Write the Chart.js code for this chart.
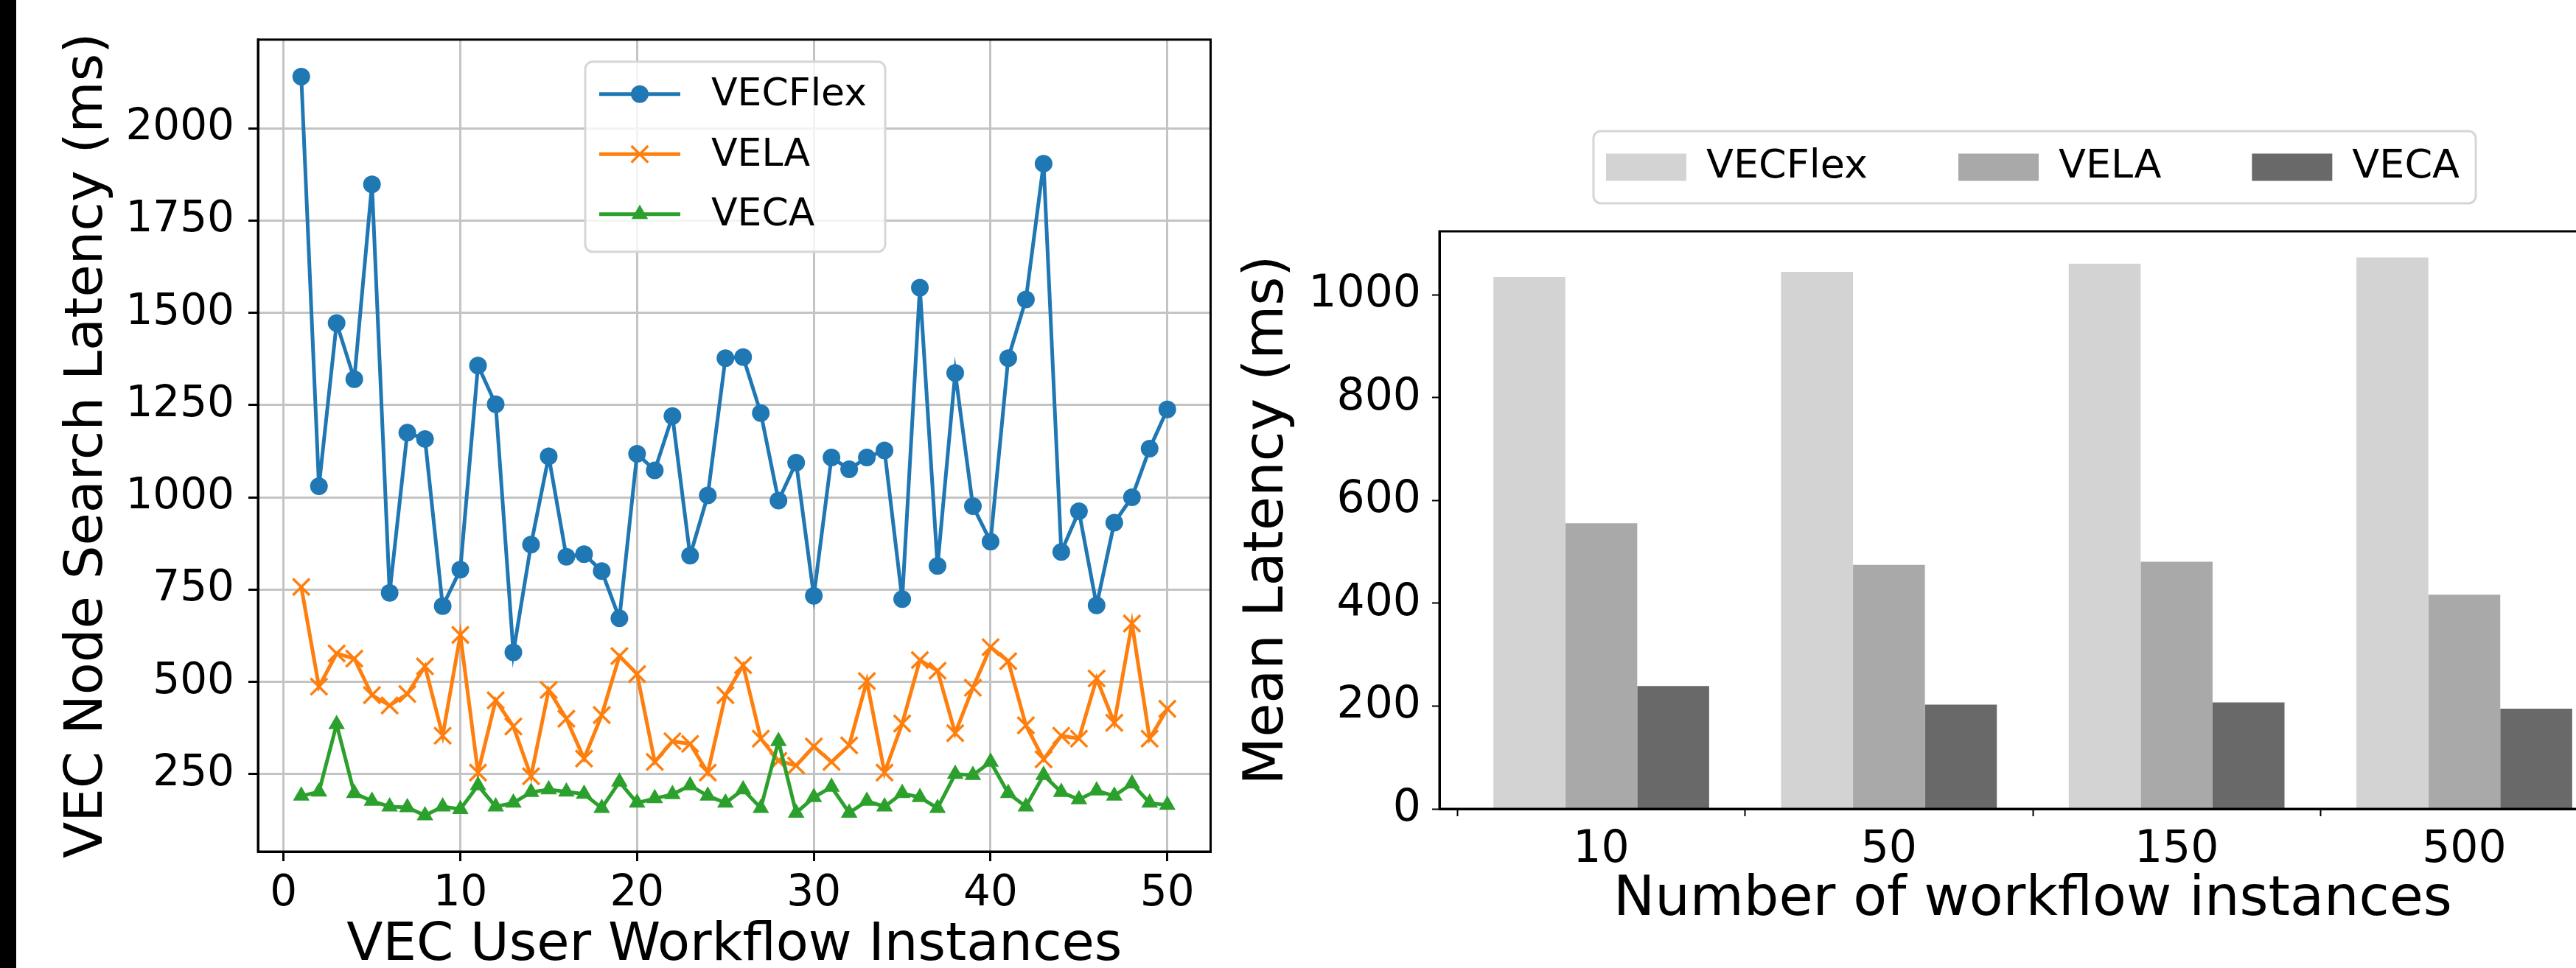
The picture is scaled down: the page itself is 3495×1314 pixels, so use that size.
<!DOCTYPE html>
<html>
<head>
<meta charset="utf-8">
<script src="https://cdn.jsdelivr.net/npm/chart.js@4/dist/chart.umd.min.js"></script>
<style>
html, body { margin: 0; padding: 0; background: #fff; overflow: hidden; width: 3495px; height: 1314px; position: relative; }
#edge { position: absolute; left: 0; top: 0; width: 22px; height: 1314px; background: #000; }
#left { position: absolute; left: 22px; top: 0; }
#right { position: absolute; left: 1640px; top: 0; }
</style>
</head>
<body>
<div id="edge"></div>
<canvas id="left" width="1640" height="1340"></canvas>
<canvas id="right" width="1923" height="1314"></canvas>
<script>
// left panel: search latency per workflow instance
const instances = [1,2,3,4,5,6,7,8,9,10,11,12,13,14,15,16,17,18,19,20,21,22,23,24,25,26,27,28,29,30,31,32,33,34,35,36,37,38,39,40,41,42,43,44,45,46,47,48,49,50];
const vecflex = [2140,1030,1472,1320,1848,741,1175,1158,705,804,1357,1252,580,872,1111,839,846,800,672,1118,1073,1220,842,1005,1377,1380,1228,991,1094,733,1108,1076,1108,1127,724,1568,814,1337,976,880,1377,1536,1904,852,962,707,931,1000,1132,1238];
const vela = [757,487,577,563,464,436,467,542,354,627,254,450,379,244,478,400,292,410,570,521,283,339,332,254,464,545,346,286,273,325,283,328,502,254,387,559,530,361,484,594,556,382,290,354,346,509,389,658,346,427];
const veca = [191,202,385,198,177,162,160,138,162,155,219,162,172,201,208,202,196,158,229,172,184,195,219,191,172,208,158,339,145,187,215,145,177,162,198,187,158,250,247,283,198,162,247,201,181,205,191,224,172,166];
const xTicks = [0,10,20,30,40,50];
const yTicksLeft = [250,500,750,1000,1250,1500,1750,2000];

// right panel: mean latency by number of instances
const groups = ['10','50','150','500'];
const vecflexMean = [1035,1045,1061,1073];
const velaMean = [556,475,481,417];
const vecaMean = [239,203,207,195];
const yTicksRight = [0,200,400,600,800,1000];

Chart.defaults.font.family = 'DejaVu Sans';
Chart.defaults.color = '#000';

const plain = v => String(v);

const frame = {
  id: 'frame',
  afterDraw(chart) {
    const {ctx, chartArea: a} = chart;
    ctx.save();
    ctx.strokeStyle = '#000';
    ctx.lineWidth = 3;
    ctx.strokeRect(a.left, a.top, a.right - a.left, a.bottom - a.top);
    ctx.restore();
  }
};

function roundBox(ctx, x, y, w, h, r) {
  ctx.beginPath();
  ctx.moveTo(x + r, y);
  ctx.arcTo(x + w, y, x + w, y + h, r);
  ctx.arcTo(x + w, y + h, x, y + h, r);
  ctx.arcTo(x, y + h, x, y, r);
  ctx.arcTo(x, y, x + w, y, r);
  ctx.closePath();
}

// legend inside the line plot, matplotlib style
const lineLegend = {
  id: 'lineLegend',
  afterDraw(chart) {
    const ctx = chart.ctx;
    const a = chart.chartArea;
    const bx = a.left + 444, by = a.top + 30;
    ctx.save();
    roundBox(ctx, bx, by, 407, 258, 10);
    ctx.fillStyle = 'rgba(255,255,255,0.8)';
    ctx.fill();
    ctx.strokeStyle = '#d6d6d6';
    ctx.lineWidth = 3;
    ctx.stroke();
    chart.data.datasets.forEach((ds, i) => {
      const cy = by + 44 + i * 81.5;
      ctx.strokeStyle = ds.borderColor;
      ctx.lineWidth = ds.borderWidth;
      ctx.beginPath();
      ctx.moveTo(bx + 19, cy);
      ctx.lineTo(bx + 129, cy);
      ctx.stroke();
      ctx.fillStyle = ds.backgroundColor;
      ctx.lineWidth = ds.pointBorderWidth;
      Chart.helpers.drawPoint(ctx, {pointStyle: ds.pointStyle, radius: ds.pointRadius, borderWidth: ds.pointBorderWidth, rotation: 0}, bx + 74, cy);
      ctx.fillStyle = '#000';
      ctx.font = '52px "DejaVu Sans"';
      ctx.textBaseline = 'middle';
      ctx.textAlign = 'left';
      ctx.fillText(ds.label, bx + 171, cy + 2);
    });
    ctx.restore();
  }
};

new Chart(document.getElementById('left'), {
  type: 'line',
  data: {
    datasets: [
      {label: 'VECFlex', data: instances.map((x, i) => ({x: x, y: vecflex[i]})),
       borderColor: '#1f77b4', backgroundColor: '#1f77b4', borderWidth: 5,
       pointStyle: 'circle', pointRadius: 12, pointBorderWidth: 0, order: 2},
      {label: 'VELA', data: instances.map((x, i) => ({x: x, y: vela[i]})),
       borderColor: '#ff7f0e', backgroundColor: '#ff7f0e', borderWidth: 5,
       pointStyle: 'crossRot', pointRadius: 16, pointBorderWidth: 3.5, order: 1},
      {label: 'VECA', data: instances.map((x, i) => ({x: x, y: veca[i]})),
       borderColor: '#2ca02c', backgroundColor: '#2ca02c', borderWidth: 5,
       pointStyle: 'triangle', pointRadius: 13, pointBorderWidth: 0, order: 0}
    ]
  },
  options: {
    responsive: false,
    animation: false,
    devicePixelRatio: 1,
    layout: {padding: {top: 52, right: 18, left: 0, bottom: 0}},
    plugins: {legend: {display: false}, tooltip: {enabled: false}},
    scales: {
      x: {
        type: 'linear', min: -1.45, max: 52.45,
        afterBuildTicks: s => { s.ticks = xTicks.map(v => ({value: v})); },
        afterFit: s => { s.height = 184; },
        ticks: {font: {size: 58}, padding: 10, maxRotation: 0, autoSkip: false, color: '#000', callback: plain},
        grid: {color: '#c4c4c4', lineWidth: 3, tickLength: 13, tickColor: '#000', tickWidth: 3},
        border: {color: '#000', width: 3},
        title: {display: true, text: 'VEC User Workflow Instances', color: '#000',
                font: {size: 72, lineHeight: 1.2}, padding: {top: 0, bottom: 13}}
      },
      y: {
        min: 40, max: 2240,
        afterBuildTicks: s => { s.ticks = yTicksLeft.map(v => ({value: v})); },
        afterFit: s => { s.width = 328; },
        ticks: {font: {size: 58}, padding: 19, color: '#000', callback: plain},
        grid: {color: '#c4c4c4', lineWidth: 3, tickLength: 13, tickColor: '#000', tickWidth: 3},
        border: {color: '#000', width: 3},
        title: {display: true, text: 'VEC Node Search Latency (ms)', color: '#000',
                font: {size: 72, lineHeight: 1.2}, padding: {top: 54, bottom: 0}}
      }
    }
  },
  plugins: [frame, lineLegend]
});

// rounded frame behind the bar legend
const legendFrame = {
  id: 'legendFrame',
  beforeDraw(chart) {
    const hb = chart.legend && chart.legend.legendHitBoxes;
    if (!hb || !hb.length) return;
    const first = hb[0], last = hb[hb.length - 1];
    const cy = first.top + first.height / 2;
    const ctx = chart.ctx;
    ctx.save();
    roundBox(ctx, first.left - 17, cy - 49, last.left + last.width + 22 - (first.left - 17), 98, 10);
    ctx.fillStyle = '#fff';
    ctx.fill();
    ctx.strokeStyle = '#d6d6d6';
    ctx.lineWidth = 3;
    ctx.stroke();
    ctx.restore();
  }
};

new Chart(document.getElementById('right'), {
  type: 'bar',
  data: {
    datasets: [
      {label: 'VECFlex', data: groups.map((g, i) => ({x: i, y: vecflexMean[i]})), backgroundColor: '#d3d3d3'},
      {label: 'VELA', data: groups.map((g, i) => ({x: i, y: velaMean[i]})), backgroundColor: '#a9a9a9'},
      {label: 'VECA', data: groups.map((g, i) => ({x: i, y: vecaMean[i]})), backgroundColor: '#696969'}
    ]
  },
  options: {
    responsive: false,
    animation: false,
    devicePixelRatio: 1,
    datasets: {bar: {categoryPercentage: 0.75, barPercentage: 1, borderWidth: 0}},
    layout: {padding: {top: 77, right: 0, left: 0, bottom: 0}},
    plugins: {
      tooltip: {enabled: false},
      legend: {
        display: true, position: 'top', fullSize: false,
        labels: {font: {size: 54}, boxWidth: 109, boxHeight: 37, padding: 123, color: '#000'}
      }
    },
    scales: {
      x: {
        type: 'linear', min: -0.5625, max: 3.5625, offset: false,
        afterBuildTicks: s => { s.ticks = groups.map((g, i) => ({value: i})); },
        afterFit: s => { s.height = 216; },
        ticks: {font: {size: 60}, padding: 10, color: '#000', maxRotation: 0, autoSkip: false,
                callback: v => groups[v]},
        grid: {display: true, drawOnChartArea: false, tickLength: 10, tickColor: '#000', tickWidth: 2},
        border: {color: '#000', width: 3},
        title: {display: true, text: 'Number of workflow instances', color: '#000',
                font: {size: 75, lineHeight: 1.2}, padding: {top: 0, bottom: 46}}
      },
      gap: {
        type: 'linear', position: 'top', display: true,
        ticks: {display: false}, grid: {display: false}, border: {display: false},
        afterFit: s => { s.height = 50; }
      },
      y: {
        min: 0, max: 1124,
        afterBuildTicks: s => { s.ticks = yTicksRight.map(v => ({value: v})); },
        afterFit: s => { s.width = 313; },
        ticks: {font: {size: 60}, padding: 15, color: '#000', callback: plain},
        grid: {display: true, drawOnChartArea: false, tickLength: 10, tickColor: '#000', tickWidth: 2},
        border: {color: '#000', width: 3},
        title: {display: true, text: 'Mean Latency (ms)', color: '#000',
                font: {size: 75, lineHeight: 1.2}, padding: {top: 36, bottom: 0}}
      }
    }
  },
  plugins: [frame, legendFrame]
});
</script>
</body>
</html>
